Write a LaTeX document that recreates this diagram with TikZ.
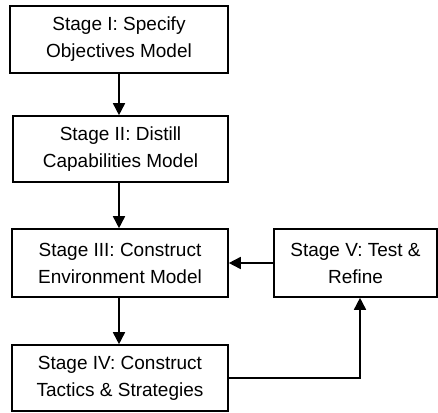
\documentclass[tikz,border=0pt]{standalone}
\usepackage{fontspec}
\setmainfont{Liberation Sans}
\usetikzlibrary{arrows.meta}
\begin{document}
\begin{tikzpicture}[x=1pt,y=1pt,
  stagebox/.style={draw, line width=1.6pt, align=center, inner sep=0pt,
    font=\fontsize{19}{27}\selectfont},
  flow/.style={line width=1.6pt, -{Triangle[length=12pt,width=12pt]}}]
\useasboundingbox (0,0) rectangle (438,-412);
\node[stagebox, minimum width=218pt, minimum height=67pt] (s1) at (119,-39.5) {Stage I: Specify\\Objectives Model};
\node[stagebox, minimum width=215pt, minimum height=66pt] (s2) at (120.5,-149) {Stage II: Distill\\Capabilities Model};
\node[stagebox, minimum width=216pt, minimum height=68pt] (s3) at (120,-263) {Stage III: Construct\\Environment Model};
\node[stagebox, minimum width=216pt, minimum height=66pt] (s4) at (120,-378) {Stage IV: Construct\\Tactics \& Strategies};
\node[stagebox, minimum width=163pt, minimum height=68pt] (s5) at (355.5,-263) {Stage V: Test \&\\Refine};
\draw[flow] (s1.south) -- (s1.south |- s2.north);
\draw[flow] (s1.south |- s2.south) -- (s1.south |- s3.north);
\draw[flow] (s1.south |- s3.south) -- (s1.south |- s4.north);
\draw[flow] (s5.west) -- (s3.east);
\coordinate (up) at ([xshift=4.5pt]s5.south);
\draw[flow] (s4.east) -| (up);
\end{tikzpicture}
\end{document}
